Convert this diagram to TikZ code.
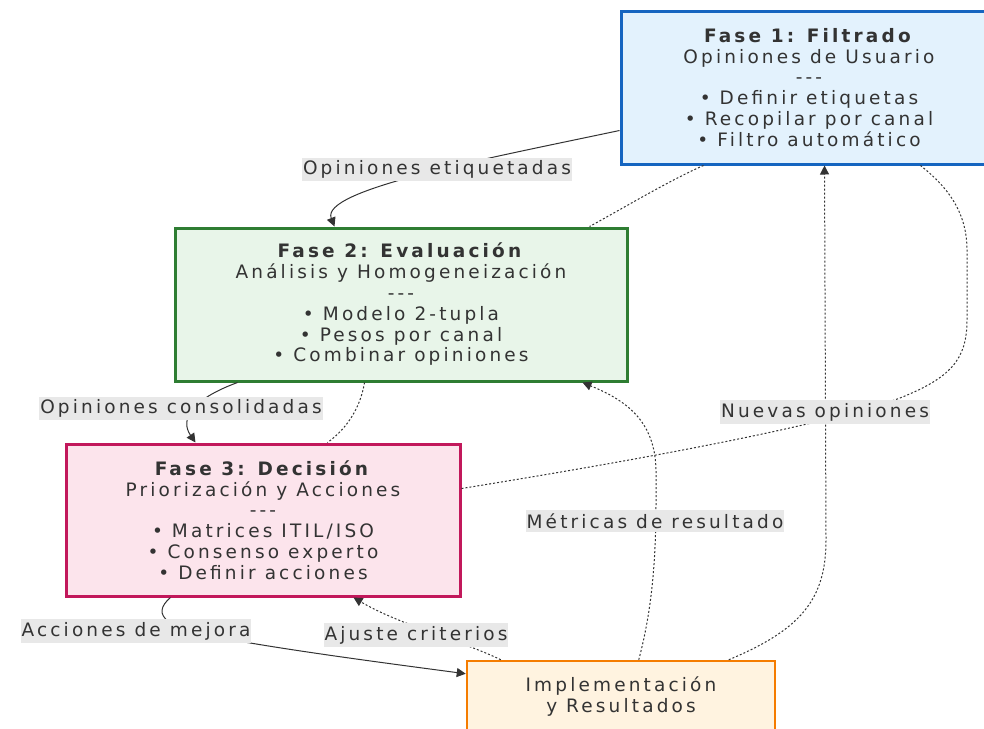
\documentclass[tikz,border=0pt]{standalone}
\usepackage{fontspec}
\newfontfamily\mfont[LetterSpace=17]{DejaVu Sans}
\usetikzlibrary{arrows.meta,calc}
\definecolor{txt}{HTML}{333333}
\definecolor{lblbg}{HTML}{E8E8E8}
\definecolor{f1fill}{HTML}{E3F2FD}\definecolor{f1line}{HTML}{1565C0}
\definecolor{f2fill}{HTML}{E8F5E9}\definecolor{f2line}{HTML}{2E7D32}
\definecolor{f3fill}{HTML}{FCE4EC}\definecolor{f3line}{HTML}{C2185B}
\definecolor{imfill}{HTML}{FFF3E0}\definecolor{imline}{HTML}{F57C00}
\tikzset{
  phase/.style={draw, line width=3pt, align=center, text=txt, inner sep=0pt,
    font=\mfont\fontsize{18.5}{20.8}\selectfont},
  lbl/.style={fill=lblbg, text=txt, inner xsep=1pt, inner ysep=3pt,
    font=\mfont\fontsize{18.5}{18}\selectfont},
  solidarrow/.style={draw=txt, line width=1pt, -{Triangle[length=9pt,width=9pt]}},
  dotline/.style={draw=txt, line width=1pt, dash pattern=on 2pt off 2pt},
  dotarrow/.style={dotline, -{Triangle[length=9pt,width=9pt]}}
}
\begin{document}
\begin{tikzpicture}[x=1pt,y=-1pt]
\useasboundingbox (0,0) rectangle (984,728);
\clip (0,0) rectangle (984,728);

\node[phase, fill=f1fill, draw=f1line, minimum width=376pt, minimum height=153pt] (f1) at (809,87.5)
  {\textbf{Fase 1: Filtrado}\\Opiniones de Usuario\\-{}-{}-\\• Definir etiquetas\\• Recopilar por canal\\• Filtro automático};
\node[phase, fill=f2fill, draw=f2line, minimum width=452pt, minimum height=153pt] (f2) at (401,304.5)
  {\textbf{Fase 2: Evaluación}\\Análisis y Homogeneización\\-{}-{}-\\• Modelo 2-tupla\\• Pesos por canal\\• Combinar opiniones};
\node[phase, fill=f3fill, draw=f3line, minimum width=394pt, minimum height=152pt] (f3) at (263,520)
  {\textbf{Fase 3: Decisión}\\Priorización y Acciones\\-{}-{}-\\• Matrices ITIL/ISO\\• Consenso experto\\• Definir acciones};
\node[phase, fill=imfill, draw=imline, line width=2.5pt, minimum width=308pt, minimum height=71pt] (im) at (621,696.5)
  {Implementación\\y Resultados};

% connectors
\draw[solidarrow] ($(f1.south west)+(0,-35)$) .. controls (480,160) and (320,190) .. ($(f2.north west)+(161,0)$);
\draw[solidarrow] ($(f2.south west)+(64,0)$) .. controls (190,400) and (180,420) .. ($(f3.north west)+(131,0)$);
\draw[solidarrow] ($(f3.south west)+(106,0)$) .. controls (150,615) and (165,630) .. (233,640)
  .. controls (300,652) and (400,665) .. ($(im.north west)+(0,14)$);
\draw[dotarrow] ($(im.north west)+(35,0)$) .. controls (460,640) and (400,625) .. ($(f3.south west)+(289,0)$);
\draw[dotarrow] ($(im.north west)+(173,0)$) .. controls (652,610) and (656,560) .. (656,500) -- (656,470)
  .. controls (655,420) and (625,400) .. ($(f2.south west)+(409,0)$);
\draw[dotarrow] ($(im.north west)+(263,0)$) .. controls (800,630) and (826,600) .. (826,540) -- ($(f1.south west)+(205,0)$);
\draw[dotline] ($(f1.south west)+(84,0)$) .. controls (670,180) and (620,210) .. ($(f2.north west)+(416,0)$);
\draw[dotline] ($(f2.south west)+(191,0)$) .. controls (360,410) and (345,430) .. ($(f3.north west)+(263,0)$);
\draw[dotline] ($(f3.north east)+(0,46)$) .. controls (700,450) and (840,420) .. (900,398)
  .. controls (950,378) and (967,360) .. (967,320) -- (967,250) .. controls (967,210) and (945,185) .. ($(f1.south west)+(301,0)$);

% labels
\node[lbl] (l1) at (437,169.5) {Opiniones etiquetadas};
\node[lbl] (l2) at (181,408.5) {Opiniones consolidadas};
\node[lbl] (l3) at (136,631) {Acciones de mejora};
\node[lbl] (l4) at (416,635) {Ajuste criterios};
\node[lbl] (l5) at (655,521) {Métricas de resultado};
\node[lbl] (l6) at (825,412) {Nuevas opiniones};
\end{tikzpicture}
\end{document}
